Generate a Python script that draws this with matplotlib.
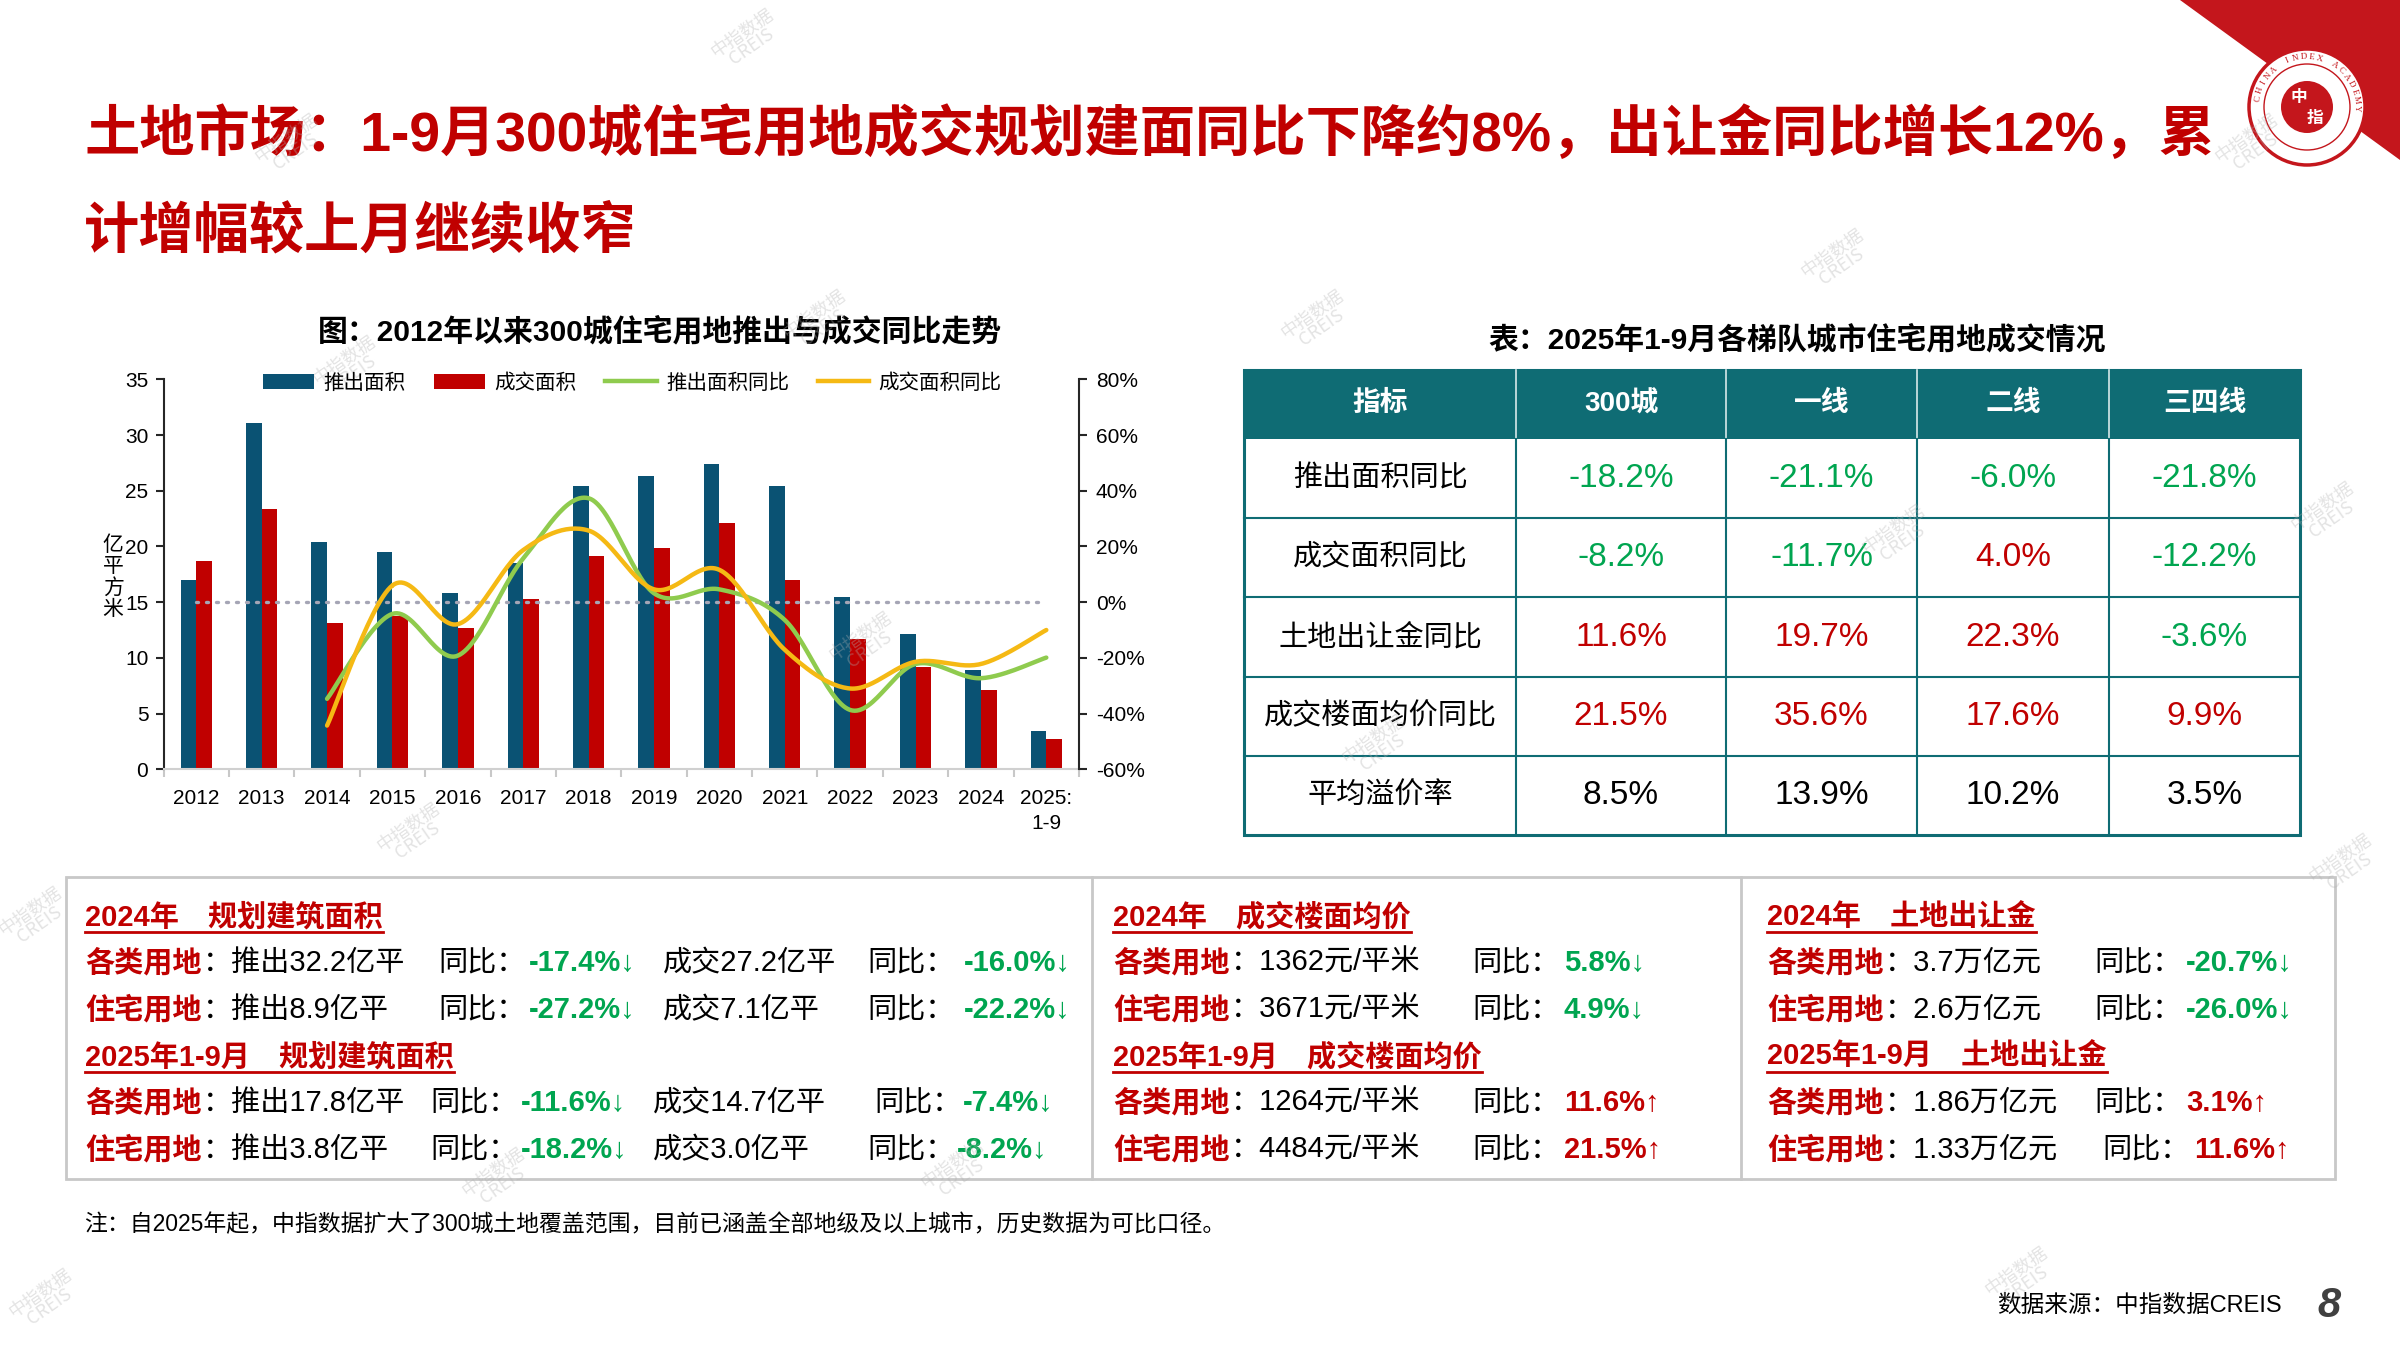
import numpy as np
import matplotlib.pyplot as plt
from matplotlib.patches import Rectangle, Polygon, Circle
from matplotlib.lines import Line2D
from matplotlib.ticker import FuncFormatter

plt.rcParams['font.family'] = ['Liberation Sans', 'Noto Sans CJK SC', 'DejaVu Sans']

W, H = 2400, 1350
RED = '#C00000'
GREEN = '#00A550'
BLUE = '#0A5273'
TEAL = '#0F6C74'
LOGO_RED = '#C4161C'

# ---- chart data ----
years = ['2012', '2013', '2014', '2015', '2016', '2017', '2018', '2019', '2020',
         '2021', '2022', '2023', '2024', '2025:\n1-9']
launch_area = [17.0, 31.1, 20.4, 19.5, 15.8, 18.5, 25.4, 26.3, 27.4, 25.4, 15.5, 12.1, 8.9, 3.4]
deal_area = [18.7, 23.4, 13.1, 13.8, 12.7, 15.3, 19.1, 19.9, 22.1, 17.0, 11.7, 9.2, 7.1, 2.7]
launch_yoy = [np.nan, np.nan, -34.7, -4.2, -19.2, 15.7, 37.3, 3.2, 4.6, -6.4, -38.7, -22.2, -27.3, -19.9]
deal_yoy = [np.nan, np.nan, -44.3, 6.0, -7.9, 18.7, 25.7, 4.6, 11.6, -17.1, -31.0, -21.4, -22.2, -10.0]

# ---- table data ----
table_header = ['指标', '300城', '一线', '二线', '三四线']
row_labels = ['推出面积同比', '成交面积同比', '土地出让金同比', '成交楼面均价同比', '平均溢价率']
table_values = [[-18.2, -21.1, -6.0, -21.8],
                [-8.2, -11.7, 4.0, -12.2],
                [11.6, 19.7, 22.3, -3.6],
                [21.5, 35.6, 17.6, 9.9],
                [8.5, 13.9, 10.2, 3.5]]

# ---- text boxes ----
box_heads = [['2024年　规划建筑面积', '2025年1-9月　规划建筑面积'],
             ['2024年　成交楼面均价', '2025年1-9月　成交楼面均价'],
             ['2024年　土地出让金', '2025年1-9月　土地出让金']]
land_types = ['各类用地', '住宅用地']
area_2024 = [['推出32.2亿平', '-17.4%↓', '成交27.2亿平', '-16.0%↓'],
             ['推出8.9亿平', '-27.2%↓', '成交7.1亿平', '-22.2%↓']]
area_2025 = [['推出17.8亿平', '-11.6%↓', '成交14.7亿平', '-7.4%↓'],
             ['推出3.8亿平', '-18.2%↓', '成交3.0亿平', '-8.2%↓']]
price_2024 = [['1362元/平米', '5.8%↓'], ['3671元/平米', '4.9%↓']]
price_2025 = [['1264元/平米', '11.6%↑'], ['4484元/平米', '21.5%↑']]
fee_2024 = [['3.7万亿元', '-20.7%↓'], ['2.6万亿元', '-26.0%↓']]
fee_2025 = [['1.86万亿元', '3.1%↑'], ['1.33万亿元', '11.6%↑']]


def smooth(xs, ys, n=30):
    # catmull-rom curve through the points (like a smoothed excel line)
    px = np.concatenate([[xs[0]], xs, [xs[-1]]])
    py = np.concatenate([[ys[0]], ys, [ys[-1]]])
    t = np.linspace(0, 1, n)
    outx, outy = [], []
    for i in range(1, len(px) - 2):
        for p, out in ((px, outx), (py, outy)):
            p0, p1, p2, p3 = p[i - 1], p[i], p[i + 1], p[i + 2]
            out.extend(0.5 * (2 * p1 + (-p0 + p2) * t + (2 * p0 - 5 * p1 + 4 * p2 - p3) * t ** 2
                              + (-p0 + 3 * p1 - 3 * p2 + p3) * t ** 3))
    return np.array(outx), np.array(outy)


def frac(l, t, r, b):
    return [l / W, 1 - b / H, (r - l) / W, (b - t) / H]


fig = plt.figure(figsize=(24, 13.5), dpi=100)
bg = fig.add_axes([0, 0, 1, 1])
bg.set_xlim(0, W)
bg.set_ylim(H, 0)
bg.axis('off')

# title
bg.text(84, 135, '土地市场：1-9月300城住宅用地成交规划建面同比下降约8%，出让金同比增长12%，累',
        color=RED, fontsize=39.8, weight='bold', va='center')
bg.text(84, 233, '计增幅较上月继续收窄', color=RED, fontsize=39.8, weight='bold', va='center')

# corner + logo
bg.add_patch(Polygon([(2180, 0), (2400, 0), (2400, 160)], color=LOGO_RED, lw=0))
bg.add_patch(Circle((2307, 107), 58, fc='white', ec=LOGO_RED, lw=2.5))
bg.add_patch(Circle((2307, 107), 43, fc='none', ec=LOGO_RED, lw=1))
bg.add_patch(Circle((2307, 107), 26, fc=LOGO_RED, ec='none'))
bg.text(2299, 97, '中', color='white', fontsize=12, weight='bold', ha='center', va='center',
        family='Noto Sans CJK SC')
bg.text(2315, 118, '指', color='white', fontsize=12, weight='bold', ha='center', va='center',
        family='Noto Sans CJK SC')
for i, ch in enumerate('CHINA INDEX ACADEMY'):
    ang = np.radians(170 - i * 9.5)
    bg.text(2307 + 50 * np.cos(ang), 107 - 50 * np.sin(ang), ch, color=LOGO_RED, fontsize=6.5,
            ha='center', va='center', rotation=np.degrees(ang) - 90, family='Liberation Serif')

# ---- chart ----
bg.text(660, 332, '图：2012年以来300城住宅用地推出与成交同比走势', fontsize=21.5, weight='bold',
        ha='center', va='center')
ax = fig.add_axes(frac(163.6, 379.3, 1079, 769.3))
ax.patch.set_alpha(0)
x = np.arange(len(years))
bw = 0.24
b1 = ax.bar(x - bw / 2, launch_area, bw, color=BLUE, label='推出面积')
b2 = ax.bar(x + bw / 2, deal_area, bw, color=RED, label='成交面积')
ax.set_xlim(-0.5, len(years) - 0.5)
ax.set_ylim(0, 35)
ax.set_yticks(range(0, 36, 5))
ax.set_xticks(x)
ax.set_xticklabels(years, linespacing=1.45)
ax.set_xticks(np.arange(-0.5, len(years), 1), minor=True)
ax.tick_params(axis='x', which='major', length=0, pad=14, labelsize=15)
ax.tick_params(axis='x', which='minor', length=6, width=1.5, color='#C8C8C8')
ax.tick_params(axis='y', length=6, width=1.5, pad=5, labelsize=15, color='#262626')
for s in ['top', 'right']:
    ax.spines[s].set_visible(False)
ax.spines['left'].set_color('#262626')
ax.spines['left'].set_linewidth(1.5)
ax.spines['bottom'].set_color('#D0D0D0')
ax.spines['bottom'].set_linewidth(1.5)

ax2 = ax.twinx()
ax2.set_ylim(-60, 80)
ax2.set_yticks(range(-60, 81, 20))
ax2.yaxis.set_major_formatter(FuncFormatter(lambda v, p: f'{v:.0f}%'))
ax2.tick_params(axis='y', length=6, width=1.5, pad=6, labelsize=15, color='#262626')
for s in ['top', 'left', 'bottom']:
    ax2.spines[s].set_visible(False)
ax2.spines['right'].set_color('#262626')
ax2.spines['right'].set_linewidth(1.5)
ax2.plot([x[0], x[-1]], [0, 0], color='#A5A5B5', lw=2.4, linestyle=(0, (0.6, 2.4)),
         dash_capstyle='round')
for vals, col in ((launch_yoy, '#8FCB4E'), (deal_yoy, '#F5B914')):
    v = np.array(vals)
    ok = ~np.isnan(v)
    sx, sy = smooth(x[ok].astype(float), v[ok])
    ax2.plot(sx, sy, color=col, lw=3.2, solid_capstyle='round')

handles = [b1, b2, Line2D([], [], color='#8FCB4E', lw=3.2), Line2D([], [], color='#F5B914', lw=3.2)]
fig.legend(handles, ['推出面积', '成交面积', '推出面积同比', '成交面积同比'], loc='center',
           bbox_to_anchor=(632 / W, 1 - 383 / H), ncol=4, frameon=False, fontsize=14.8,
           handlelength=2.5, handleheight=0.75, handletextpad=0.45, columnspacing=1.4)
bg.text(113, 577, '亿\n平\n方\n米', ha='center', va='center', fontsize=15, linespacing=0.95,
        family='Noto Sans CJK SC')

# ---- table ----
bg.text(1797, 340, '表：2025年1-9月各梯队城市住宅用地成交情况', fontsize=21.5, weight='bold',
        ha='center', va='center')
cols = [1244, 1516, 1726, 1917, 2109, 2300]
rows = [370, 438.6, 518, 597, 677, 756, 835]
bg.add_patch(Rectangle((cols[0], rows[0]), cols[-1] - cols[0], rows[1] - rows[0], color=TEAL, lw=0))
for cx in cols[1:-1]:
    bg.plot([cx, cx], [rows[0], rows[1]], color='#D8E8E9', lw=1.2)
    bg.plot([cx, cx], [rows[1], rows[-1]], color=TEAL, lw=1.5)
for ry in rows[2:-1]:
    bg.plot([cols[0], cols[-1]], [ry, ry], color=TEAL, lw=1.5)
bg.add_patch(Rectangle((cols[0], rows[0]), cols[-1] - cols[0], rows[-1] - rows[0], fill=False,
                       ec=TEAL, lw=2.2))
ccx = [(cols[i] + cols[i + 1]) / 2 for i in range(len(cols) - 1)]
ccy = [(rows[i] + rows[i + 1]) / 2 for i in range(len(rows) - 1)]
for j, h in enumerate(table_header):
    bg.text(ccx[j], ccy[0], h, color='white', fontsize=20, weight='bold', ha='center', va='center')
for i, lab in enumerate(row_labels):
    bg.text(ccx[0], ccy[i + 1], lab, fontsize=21, ha='center', va='center')
    for j, v in enumerate(table_values[i]):
        if i == len(row_labels) - 1:
            c = 'black'
        else:
            c = RED if v > 0 else GREEN
        bg.text(ccx[j + 1], ccy[i + 1], f'{v:.1f}%', color=c, fontsize=24, ha='center', va='center')

# ---- bottom boxes ----
bg.add_patch(Rectangle((66, 877), 2269, 302, fill=False, ec='#C8C8C8', lw=2))
for dx in (1092, 1741):
    bg.plot([dx, dx], [877, 1179], color='#C8C8C8', lw=2)
ry = [917, 963, 1010, 1057, 1103, 1150]
FS = 21
heads = []


def label_row(x0, y, lab, rest):
    bg.text(x0, y, lab, color=RED, fontsize=FS, weight='bold', va='center')
    bg.text(x0 + 118, y, '：' + rest, fontsize=FS, va='center')


def val(xv, y, s):
    c = RED if '↑' in s else GREEN
    bg.text(xv, y, s, color=c, fontsize=FS, weight='bold', va='center')


# box 1
bx = 85
for k, (data, ys) in enumerate(((area_2024, ry[1:3]), (area_2025, ry[4:6]))):
    heads.append(bg.text(bx, ry[k * 3], box_heads[0][k], color=RED, fontsize=FS, weight='bold',
                         va='center'))
    xs = [438, 529, 663, 867, 964] if k == 0 else [430, 521, 653, 874, 963]
    for i, r in enumerate(data):
        label_row(bx, ys[i], land_types[i], r[0])
        bg.text(xs[0], ys[i], '同比：', fontsize=FS, va='center')
        val(xs[1], ys[i], r[1])
        bg.text(xs[2], ys[i], r[2], fontsize=FS, va='center')
        bg.text(xs[3] if not (k == 1 and i == 1) else 867, ys[i], '同比：', fontsize=FS, va='center')
        val(xs[4] if not (k == 1 and i == 1) else 957, ys[i], r[3])

# box 2 and 3
for b, (x0, xt, xv, d24, d25) in enumerate(((1113, 1472, 1564, price_2024, price_2025),
                                              (1767, 2094, 2186, fee_2024, fee_2025))):
    for k, (data, ys) in enumerate(((d24, ry[1:3]), (d25, ry[4:6]))):
        heads.append(bg.text(x0, ry[k * 3], box_heads[b + 1][k], color=RED, fontsize=FS,
                             weight='bold', va='center'))
        for i, r in enumerate(data):
            shift = 8 if (b == 1 and k == 1 and i == 1) else 0
            label_row(x0, ys[i], land_types[i], r[0])
            bg.text(xt + shift, ys[i], '同比：', fontsize=FS, va='center')
            val(xv + shift, ys[i], r[1])

# underline the box headings
fig.canvas.draw()
rend = fig.canvas.get_renderer()
inv = bg.transData.inverted()
for t in heads:
    bb = t.get_window_extent(rend)
    (l, _), (r, _) = inv.transform([(bb.x0, bb.y0), (bb.x1, bb.y0)])
    y = t.get_position()[1] + 15
    bg.plot([l, r], [y, y], color=RED, lw=2)

# footnote & source
bg.text(84, 1225, '注：自2025年起，中指数据扩大了300城土地覆盖范围，目前已涵盖全部地级及以上城市，历史数据为可比口径。',
        fontsize=16.5, va='center')
bg.text(2282, 1306, '数据来源：中指数据CREIS', fontsize=17, ha='right', va='center')
bg.text(2329, 1306, '8', fontsize=30, weight='bold', style='italic', color='#404040',
        ha='center', va='center')

# watermarks
marks = [(747, 40), (291, 145), (1837, 260), (1317, 321), (819, 321), (349, 367), (2327, 513),
         (1898, 536), (865, 643), (1378, 746), (413, 834), (2345, 865), (35, 918), (498, 1179),
         (957, 1171), (2021, 1278), (45, 1300), (2251, 145)]
for mx, my in marks:
    fig.text(mx / W, 1 - my / H, '中指数据\nCREIS', rotation=35, color='#B0B0B0', alpha=0.35,
             fontsize=13, ha='center', va='center', linespacing=0.9, family='Noto Sans CJK SC')

fig.savefig('out.png', dpi=100, facecolor='white')
